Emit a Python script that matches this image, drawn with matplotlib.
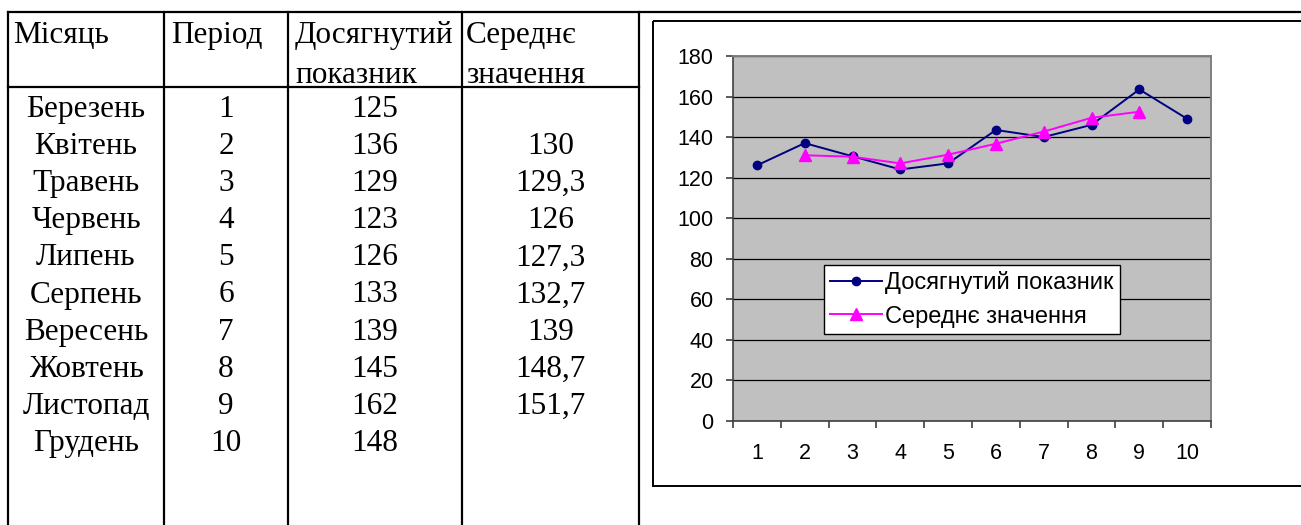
import matplotlib
matplotlib.use("Agg")
import matplotlib.pyplot as plt
from matplotlib.lines import Line2D
from matplotlib.patches import Rectangle

# ---- table data ----
header_month = ["Місяць"]
header_period = ["Період"]
header_value = ["Досягнутий", "показник"]
header_mean = ["Середнє", "значення"]

months = ["Березень", "Квітень", "Травень", "Червень", "Липень",
          "Серпень", "Вересень", "Жовтень", "Листопад", "Грудень"]
periods = ["1", "2", "3", "4", "5", "6", "7", "8", "9", "10"]
achieved_text = ["125", "136", "129", "123", "126", "133", "139", "145", "162", "148"]
mean_text = ["", "130", "129,3", "126", "127,3", "132,7", "139", "148,7", "151,7", ""]

# ---- chart data ----
chart_x = [1, 2, 3, 4, 5, 6, 7, 8, 9, 10]
achieved = [126, 137, 130.5, 124, 127, 143.5, 140, 146, 163.5, 149]
mean_x = [2, 3, 4, 5, 6, 7, 8, 9]
mean_vals = [131, 130.3, 127, 131.3, 136.7, 142.7, 149.5, 152.5]
x_labels = ["1", "2", "3", "4", "5", "6", "7", "8", "9", "10"]
y_ticks = [0, 20, 40, 60, 80, 100, 120, 140, 160, 180]

W, H = 1301, 525
fig = plt.figure(figsize=(W / 100, H / 100), dpi=100)
fig.patch.set_facecolor("white")

# background axes in pixel coordinates for the table and the chart frame
bg = fig.add_axes([0, 0, 1, 1])
bg.set_xlim(0, W)
bg.set_ylim(H, 0)
bg.axis("off")

lw_table = 1.6
col_x = [8, 164, 288, 462, 639]
# top rule across the whole width
bg.add_line(Line2D([col_x[0], W + 5], [12, 12], color="black", lw=lw_table))
# header rule
bg.add_line(Line2D([col_x[0], col_x[-1]], [87, 87], color="black", lw=lw_table))
for cx in col_x:
    bg.add_line(Line2D([cx, cx], [12, H + 5], color="black", lw=lw_table))

serif = "Liberation Serif"
fs_table = 22.5

# header cells (left aligned)
hdr_cols = [header_month, header_period, header_value, header_mean]
hdr_left = [13, 171, 295, 466]
for lines, x0 in zip(hdr_cols, hdr_left):
    for j, t in enumerate(lines):
        bg.text(x0, 43 + 40 * j, t, family=serif, fontsize=fs_table,
                ha="left", va="baseline")

# data cells (centered)
centers = [(col_x[i] + col_x[i + 1]) / 2 for i in range(4)]
for i in range(len(months)):
    yb = 117 + 37.1 * i
    for cx, col in zip(centers, [months, periods, achieved_text, mean_text]):
        if col[i]:
            bg.text(cx, yb, col[i], family=serif, fontsize=fs_table,
                    ha="center", va="baseline")

# chart frame
bg.add_patch(Rectangle((653, 21), 700, 465, fill=False, edgecolor="black", lw=1.4))

# ---- chart ----
sans = "Liberation Sans"
left, right, top, bottom = 733, 1211, 56, 420.7
ax = fig.add_axes([left / W, 1 - bottom / H, (right - left) / W, (bottom - top) / H])
ax.set_facecolor("#C0C0C0")
ax.set_xlim(0.5, 10.5)
ax.set_ylim(0, 180)

ax.set_yticks(y_ticks)
ax.set_yticklabels([str(v) for v in y_ticks], family=sans, fontsize=15.5)
ax.yaxis.grid(True, color="black", lw=0.9)
ax.set_axisbelow(True)

# category boundaries as major ticks, labels on minor ticks at centres
ax.set_xticks([b + 0.5 for b in range(0, 11)])
ax.set_xticklabels([])
ax.set_xticks(chart_x, minor=True)
ax.set_xticklabels(x_labels, minor=True, family=sans, fontsize=15.5)
ax.tick_params(axis="x", which="major", length=5, width=1.2, color="#404040", direction="out")
ax.tick_params(axis="x", which="minor", length=0, pad=16)
ax.tick_params(axis="y", length=5, width=1.2, color="#404040", direction="out", pad=9)

for side in ["top", "right"]:
    ax.spines[side].set_color("#808080")
    ax.spines[side].set_linewidth(1.4)
for side in ["left", "bottom"]:
    ax.spines[side].set_color("#404040")
    ax.spines[side].set_linewidth(1.2)

ax.plot(chart_x, achieved, color="#000080", lw=1.4, marker="o", markersize=6,
        label="Досягнутий показник", clip_on=False, zorder=3)
ax.plot(mean_x, mean_vals, color="#FF00FF", lw=1.4, marker="^", markersize=8,
        label="Середнє значення", clip_on=False, zorder=3)

leg = ax.legend(loc="upper left", bbox_to_anchor=(824 / W, 1 - 265 / H),
                bbox_transform=fig.transFigure, borderaxespad=0,
                prop={"family": sans, "size": 17}, frameon=True, fancybox=False,
                shadow=False, handlelength=2.2, handletextpad=0.15,
                borderpad=0.25, labelspacing=0.5, framealpha=1)
leg.get_frame().set_edgecolor("black")
leg.get_frame().set_linewidth(1.0)

fig.savefig("out.png", dpi=100, facecolor="white")
